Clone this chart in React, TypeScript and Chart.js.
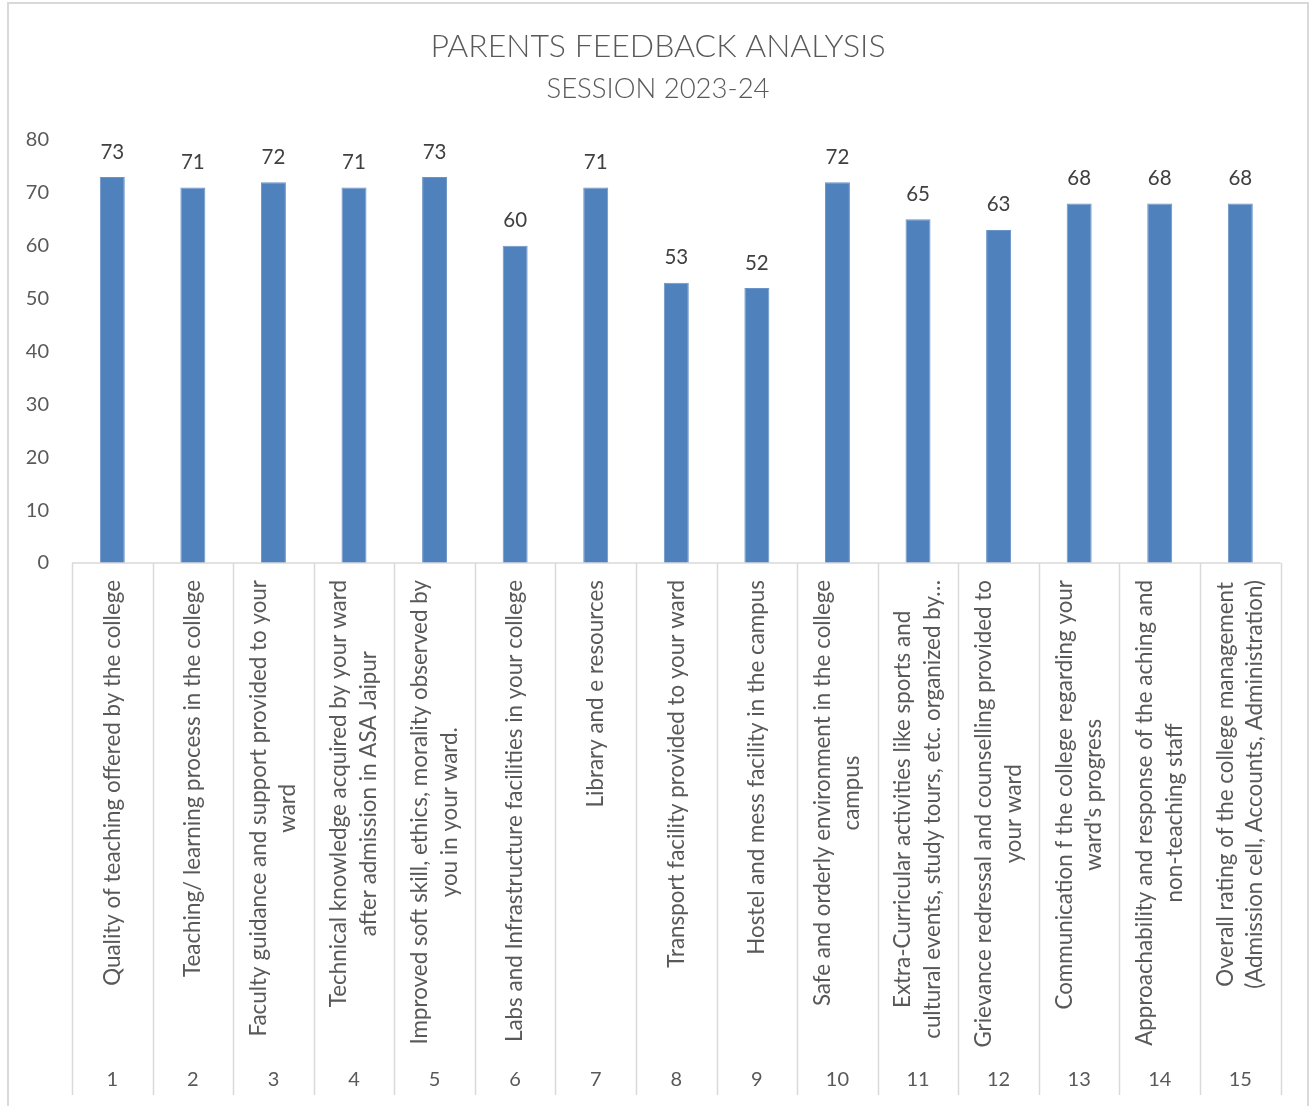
import React, { useEffect, useRef } from "react";
import { Chart, registerables } from "chart.js";

Chart.register(...registerables);

const titleText = "PARENTS FEEDBACK ANALYSIS";
const subtitleText = "SESSION 2023-24";

const categoryNumbers = ["1", "2", "3", "4", "5", "6", "7", "8", "9", "10", "11", "12", "13", "14", "15"];

const categoryLabels: string[][] = [
  ["Quality of teaching offered by the college"],
  ["Teaching/ learning process in the college"],
  ["Faculty guidance and support provided to your", "ward"],
  ["Technical knowledge acquired by your ward", "after admission in ASA Jaipur"],
  ["Improved soft skill, ethics, morality observed by", "you in your ward."],
  ["Labs and Infrastructure facilities in your college"],
  ["Library and e resources"],
  ["Transport facility provided to your ward"],
  ["Hostel and mess facility in the campus"],
  ["Safe and orderly environment in the college", "campus"],
  ["Extra-Curricular activities like sports and", "cultural events, study tours, etc. organized by\u2026"],
  ["Grievance redressal and counselling provided to", "your ward"],
  ["Communication f the college regarding your", "ward's progress"],
  ["Approachability and response of the aching and", "non-teaching staff"],
  ["Overall rating of the college management", "(Admission cell, Accounts, Administration)"],
];

const feedbackValues = [73, 71, 72, 71, 73, 60, 71, 53, 52, 72, 65, 63, 68, 68, 68];

const yMin = 0;
const yMax = 80;
const yStep = 10;

const FONT = "Lato, 'Open Sans', sans-serif";
const TEXT = "#595959";
const GRID = "#d9d9d9";

const framePlugin = {
  id: "frame",
  beforeDraw(chart: any) {
    const ctx = chart.ctx;
    ctx.save();
    ctx.fillStyle = "#ffffff";
    ctx.fillRect(0, 0, chart.width, chart.height);
    ctx.strokeStyle = GRID;
    ctx.lineWidth = 2;
    ctx.strokeRect(8, 3, chart.width - 8 - 4, chart.height + 10);
    ctx.restore();
  },
};

const categoryAxisPlugin = {
  id: "categoryAxis",
  afterDatasetsDraw(chart: any) {
    const ctx = chart.ctx;
    const xs = chart.scales.x;
    const area = chart.chartArea;
    const n = categoryNumbers.length;
    const w = (area.right - area.left) / n;
    const bottom = area.bottom;
    const sepBottom = 1095;
    ctx.save();
    ctx.strokeStyle = GRID;
    ctx.lineWidth = 1.5;
    ctx.beginPath();
    ctx.moveTo(area.left, bottom);
    ctx.lineTo(area.right, bottom);
    for (let i = 0; i <= n; i++) {
      const x = Math.round(area.left + i * w) + 0.5;
      ctx.moveTo(x, bottom);
      ctx.lineTo(x, sepBottom);
    }
    ctx.stroke();

    ctx.fillStyle = TEXT;
    ctx.font = `22.4px ${FONT}`;
    const lineGap = 29.5;
    const labelTop = bottom + 17;
    for (let i = 0; i < n; i++) {
      const cx = xs.getPixelForValue(i);
      const lines = categoryLabels[i];
      let maxW = 0;
      lines.forEach((l) => (maxW = Math.max(maxW, ctx.measureText(l).width)));
      lines.forEach((l, j) => {
        const lx = cx + (j - (lines.length - 1) / 2) * lineGap;
        ctx.save();
        ctx.translate(lx, labelTop + maxW / 2);
        ctx.rotate(-Math.PI / 2);
        ctx.textAlign = "center";
        ctx.textBaseline = "middle";
        ctx.fillText(l, 0, 0);
        ctx.restore();
      });
    }
    ctx.font = `20px ${FONT}`;
    ctx.textAlign = "center";
    ctx.textBaseline = "middle";
    for (let i = 0; i < n; i++) {
      ctx.fillText(categoryNumbers[i], xs.getPixelForValue(i), 1080);
    }

    // data labels
    const meta = chart.getDatasetMeta(0);
    ctx.fillStyle = "#404040";
    ctx.font = `20.5px ${FONT}`;
    meta.data.forEach((bar: any, i: number) => {
      ctx.fillText(String(feedbackValues[i]), bar.x, bar.y - 25);
    });
    ctx.restore();
  },
};

export default function App() {
  const ref = useRef<HTMLCanvasElement | null>(null);
  useEffect(() => {
    if (!ref.current) return;
    const chart = new Chart(ref.current, {
      type: "bar",
      data: {
        labels: categoryNumbers,
        datasets: [
          {
            data: feedbackValues,
            backgroundColor: "#4F81BD",
            borderColor: "#6a93c7",
            borderWidth: 1,
            barPercentage: 0.31,
            categoryPercentage: 1,
          },
        ],
      },
      options: {
        responsive: false,
        animation: false,
        devicePixelRatio: 1,
        layout: { padding: { top: 0, left: 0, right: -4, bottom: 543 } },
        plugins: {
          legend: { display: false },
          tooltip: { enabled: false },
          title: {
            display: true,
            text: titleText,
            color: TEXT,
            font: { family: FONT, size: 32, weight: "300" },
            padding: { top: 27.8, bottom: 6.3 },
          },
          subtitle: {
            display: true,
            text: subtitleText,
            color: TEXT,
            font: { family: FONT, size: 27.5, weight: "300" },
            padding: { top: 0, bottom: 34.5 },
          },
        },
        scales: {
          x: {
            display: false,
            grid: { display: false },
          },
          y: {
            min: yMin,
            max: yMax,
            grid: { display: false, drawTicks: false },
            border: { display: false },
            ticks: {
              stepSize: yStep,
              color: TEXT,
              font: { family: FONT, size: 20 },
              padding: 23,
            },
            afterFit(scale: any) {
              scale.width = 72;
            },
          },
          rightGap: {
            type: "linear",
            position: "right",
            display: true,
            grid: { display: false, drawTicks: false },
            border: { display: false },
            ticks: { display: false },
            afterFit(scale: any) {
              scale.width = 35.4;
            },
          },
        },
      },
      plugins: [framePlugin, categoryAxisPlugin],
    });
    return () => chart.destroy();
  }, []);
  return (
    <div style={{ position: "absolute", left: 0, top: 0, width: 1312, height: 1106 }}>
      <canvas ref={ref} width={1312} height={1106} style={{ width: 1312, height: 1106 }} />
    </div>
  );
}
